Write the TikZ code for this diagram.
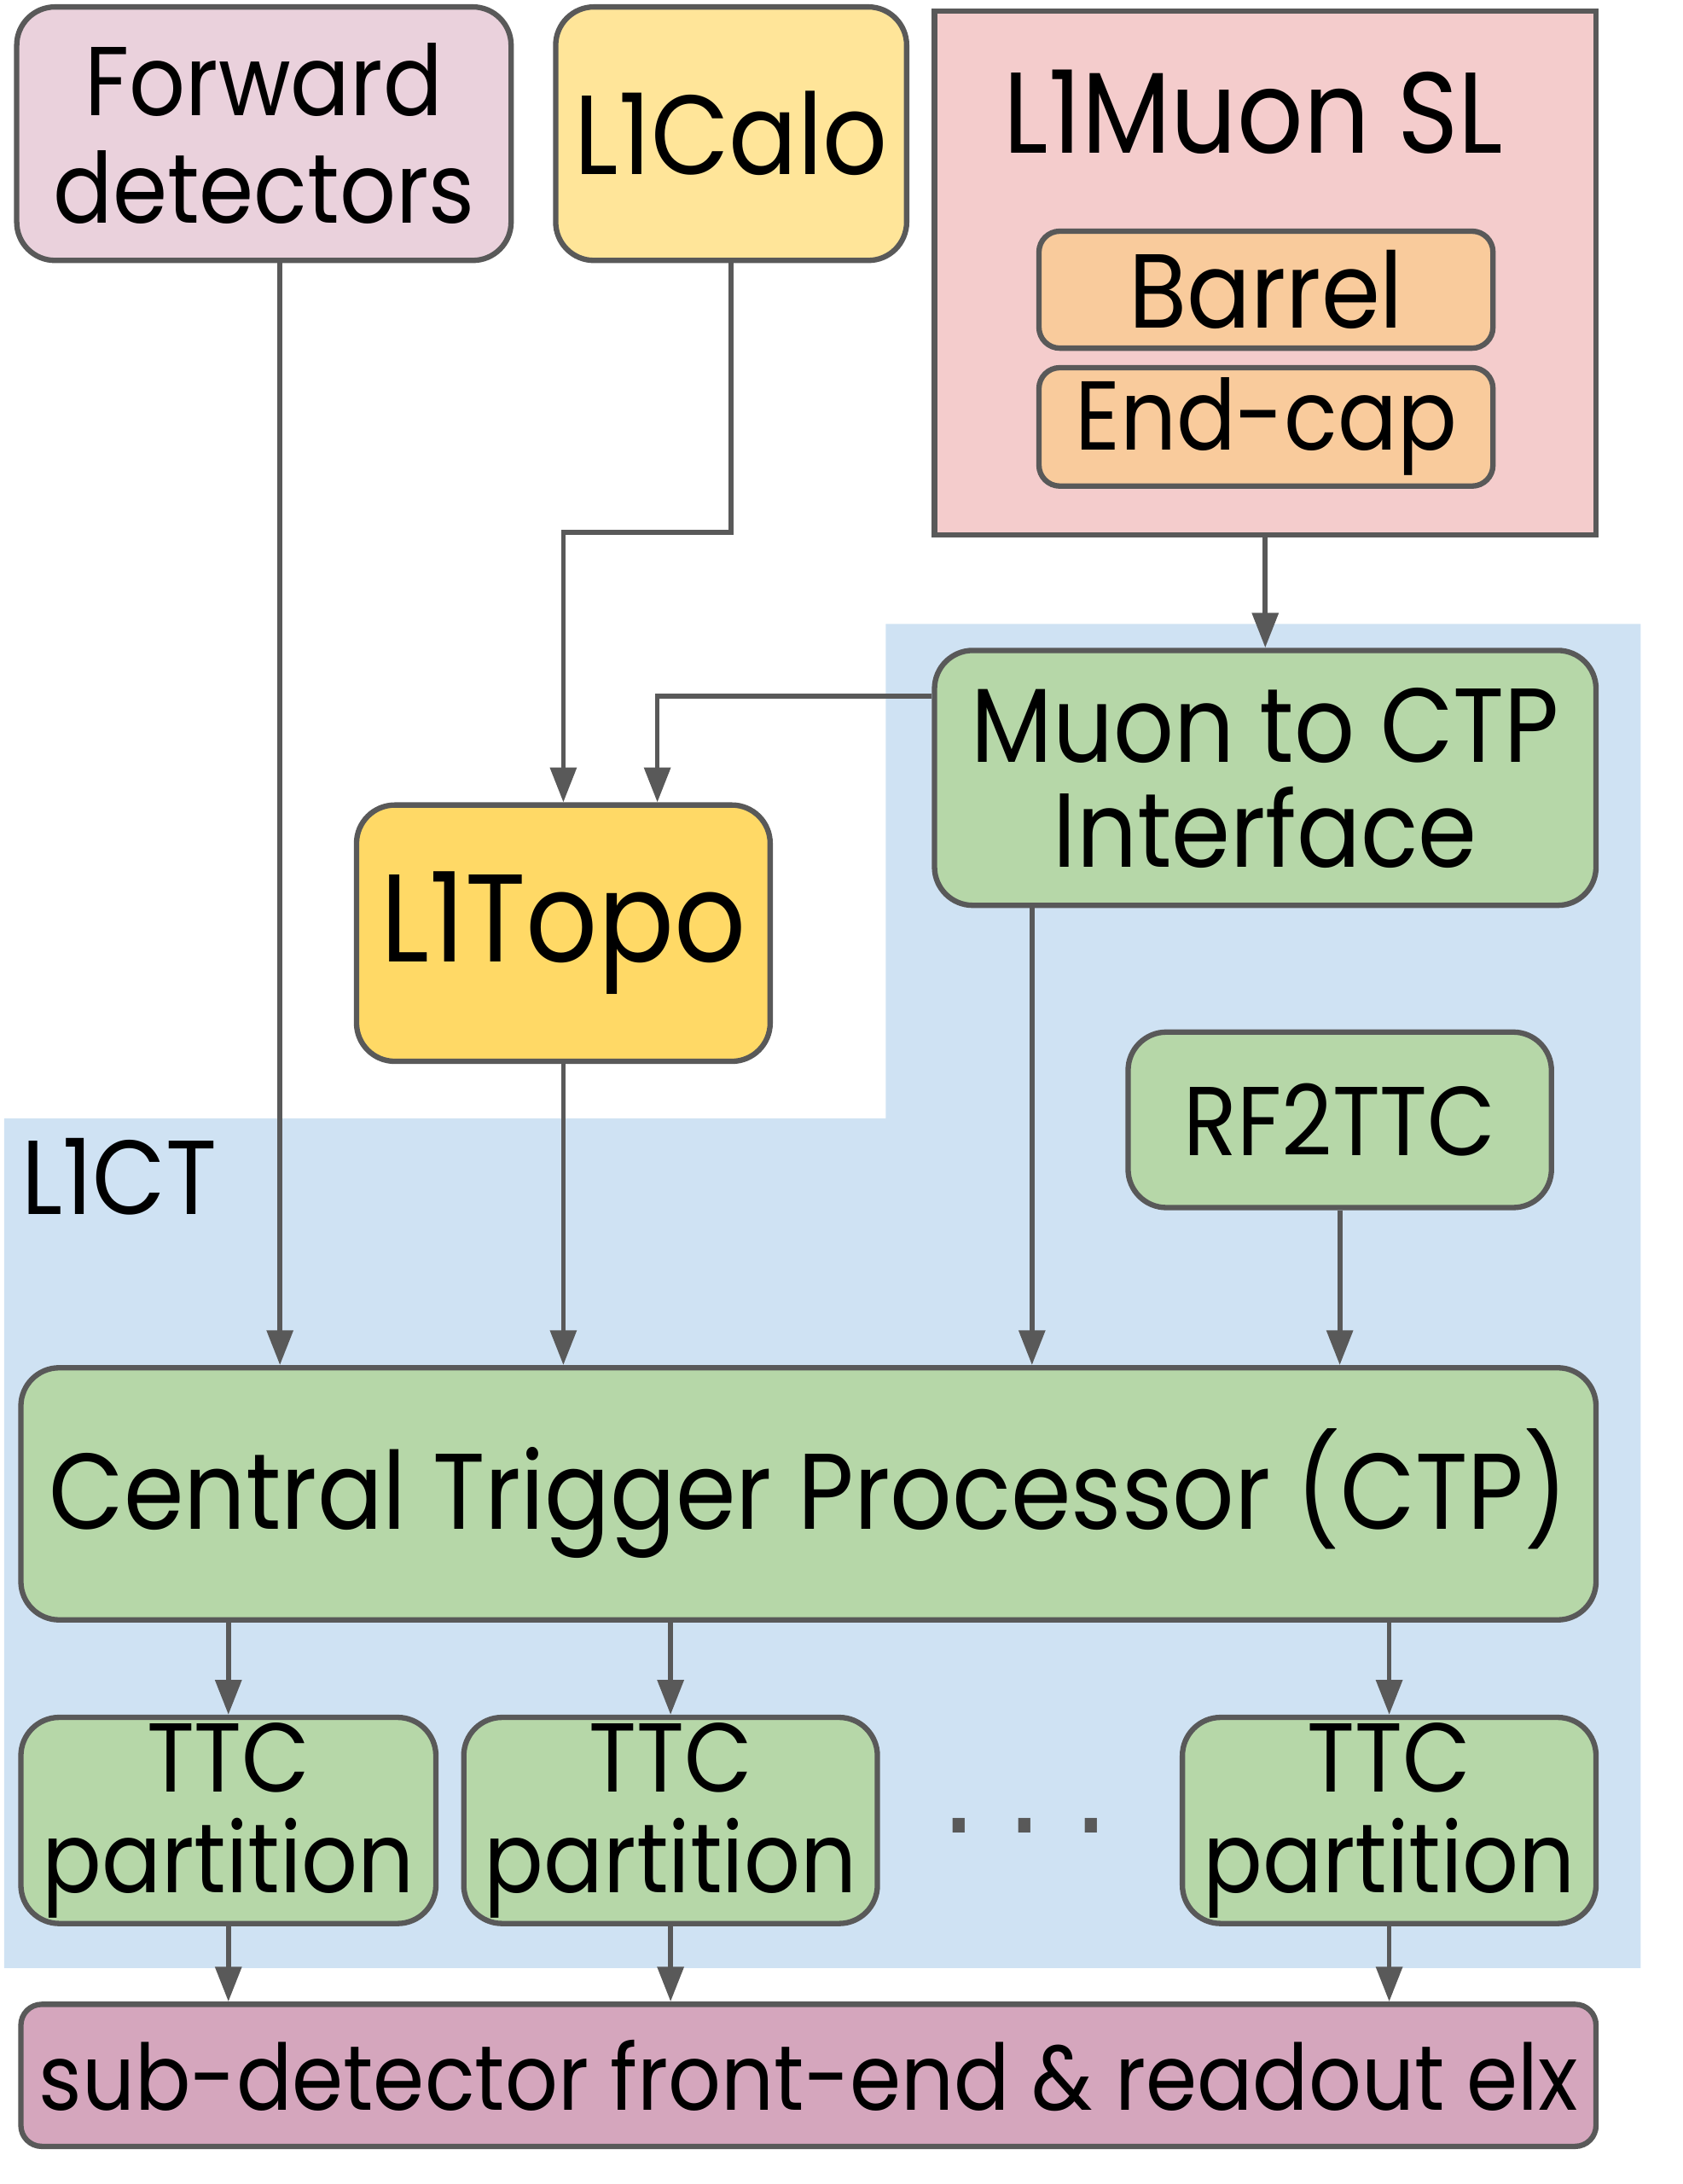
\documentclass[tikz,border=0pt]{standalone}
\usepackage{fontspec}
\setmainfont[FakeStretch=0.9]{Poppins}
\newfontfamily\dotfont{DejaVu Sans}
\usetikzlibrary{positioning,arrows.meta,calc,backgrounds}
\definecolor{linegray}{HTML}{595959}
\definecolor{ctblue}{HTML}{CFE2F3}
\definecolor{fwdpink}{HTML}{EAD1DC}
\definecolor{caloyel}{HTML}{FFE599}
\definecolor{topoyel}{HTML}{FFD966}
\definecolor{muonred}{HTML}{F4CCCC}
\definecolor{slorange}{HTML}{F9CB9C}
\definecolor{ctpgreen}{HTML}{B6D7A8}
\definecolor{febpurple}{HTML}{D5A6BD}
\tikzset{
  box/.style={draw=linegray,line width=2.2pt,rounded corners=0.55cm,align=center,
    inner sep=0pt,font=\fontsize{40}{44}\selectfont},
  subbox/.style={box,rounded corners=0.3cm},
  arr/.style={-{Triangle[length=0.5cm,width=0.37cm]},draw=linegray,line width=2pt},
}
\begin{document}
\begin{tikzpicture}
  \useasboundingbox (0,0) rectangle (24.16,31.36);
  % L1CT region
  \fill[ctblue] (12.72,22.40) -- (23.56,22.40) -- (23.56,3.10) -- (0.06,3.10)
    -- (0.06,15.30) -- (12.72,15.30) -- cycle;
  \node[anchor=base west,inner sep=0pt,font=\fontsize{43}{46}\selectfont] (l1ct) at (0.30,13.92) {L1CT};
  % inputs
  \node[box,fill=fwdpink,minimum width=7.10cm,minimum height=3.64cm] (fwd) at (3.79,29.44)
    {Forward\\detectors};
  \node[box,fill=caloyel,minimum width=5.04cm,minimum height=3.64cm,
    font=\fontsize{46}{50}\selectfont] (calo) at (10.50,29.44) {L1Calo};
  \node[box,rounded corners=0pt,fill=muonred,minimum width=9.50cm,minimum height=7.52cm]
    (musl) at (18.17,27.44) {};
  \node[anchor=base,font=\fontsize{47}{50}\selectfont] (musltitle) at (18.00,29.16) {L1Muon SL};
  \node[subbox,fill=slorange,minimum width=6.52cm,minimum height=1.68cm,
    font=\fontsize{43}{46}\selectfont] (barrel) at (18.18,27.20) {Barrel};
  \node[subbox,fill=slorange,minimum width=6.52cm,minimum height=1.70cm] (endcap) at (18.18,25.23)
    {End-cap};
  % central trigger
  \node[box,fill=ctpgreen,minimum width=9.50cm,minimum height=3.66cm,
    font=\fontsize{43}{43}\selectfont] (muctpi) at (18.17,20.19) {Muon to CTP\\Interface};
  \node[box,fill=topoyel,minimum width=5.94cm,minimum height=3.68cm,
    font=\fontsize{51}{54}\selectfont] (topo) at (8.09,17.96) {L1Topo};
  \node[box,fill=ctpgreen,minimum width=6.08cm,minimum height=2.52cm,
    font=\fontsize{40}{42}\selectfont] (rf) at (19.24,15.28) {RF2TTC};
  \node[box,fill=ctpgreen,minimum width=22.62cm,minimum height=3.62cm,
    font=\fontsize{44}{46}\selectfont] (ctp) at (11.61,9.91) {Central Trigger Processor (CTP)};
  \node[box,fill=ctpgreen,minimum width=5.96cm,minimum height=2.96cm,
    font=\fontsize{40}{41}\selectfont] (ttca) at (3.28,5.22) {TTC\\partition};
  \node[box,fill=ctpgreen,minimum width=5.94cm,minimum height=2.96cm,
    font=\fontsize{40}{41}\selectfont] (ttcb) at (9.63,5.22) {TTC\\partition};
  \node[box,fill=ctpgreen,minimum width=5.94cm,minimum height=2.96cm,
    font=\fontsize{40}{41}\selectfont] (ttcc) at (19.95,5.22) {TTC\\partition};
  \node[inner sep=0pt,font=\dotfont\fontsize{48}{48}\selectfont,text=linegray] (dots) at (14.72,5.14)
    {.\hspace{0.41cm}.\hspace{0.41cm}.};
  \node[subbox,fill=febpurple,minimum width=22.62cm,minimum height=2.04cm,
    font=\fontsize{37.5}{40}\selectfont] (subdet) at (11.61,1.56)
    {sub-detector front-end \& readout elx};
  % connections
  \coordinate (calobend) at (10.50,23.72);
  \draw[arr] (calo.south) -- (calobend) -| (topo.north);
  \draw[arr] ([yshift=1.17cm]muctpi.west) -| ([xshift=1.35cm]topo.north);
  \draw[arr] (musl.south) -- (muctpi.north);
  \coordinate (fwdout) at ([xshift=0.23cm]fwd.south);
  \draw[arr] (fwdout) -- (fwdout |- ctp.north);
  \draw[arr] (topo.south) -- (topo.south |- ctp.north);
  \coordinate (muout) at ([xshift=-3.35cm]muctpi.south);
  \draw[arr] (muout) -- (muout |- ctp.north);
  \draw[arr] (rf.south) -- (rf.south |- ctp.north);
  \foreach \t in {ttca,ttcb,ttcc} {
    \draw[arr] (ctp.south -| \t.north) -- (\t.north);
    \draw[arr] (\t.south) -- (\t.south |- subdet.north);
  }
\end{tikzpicture}
\end{document}
